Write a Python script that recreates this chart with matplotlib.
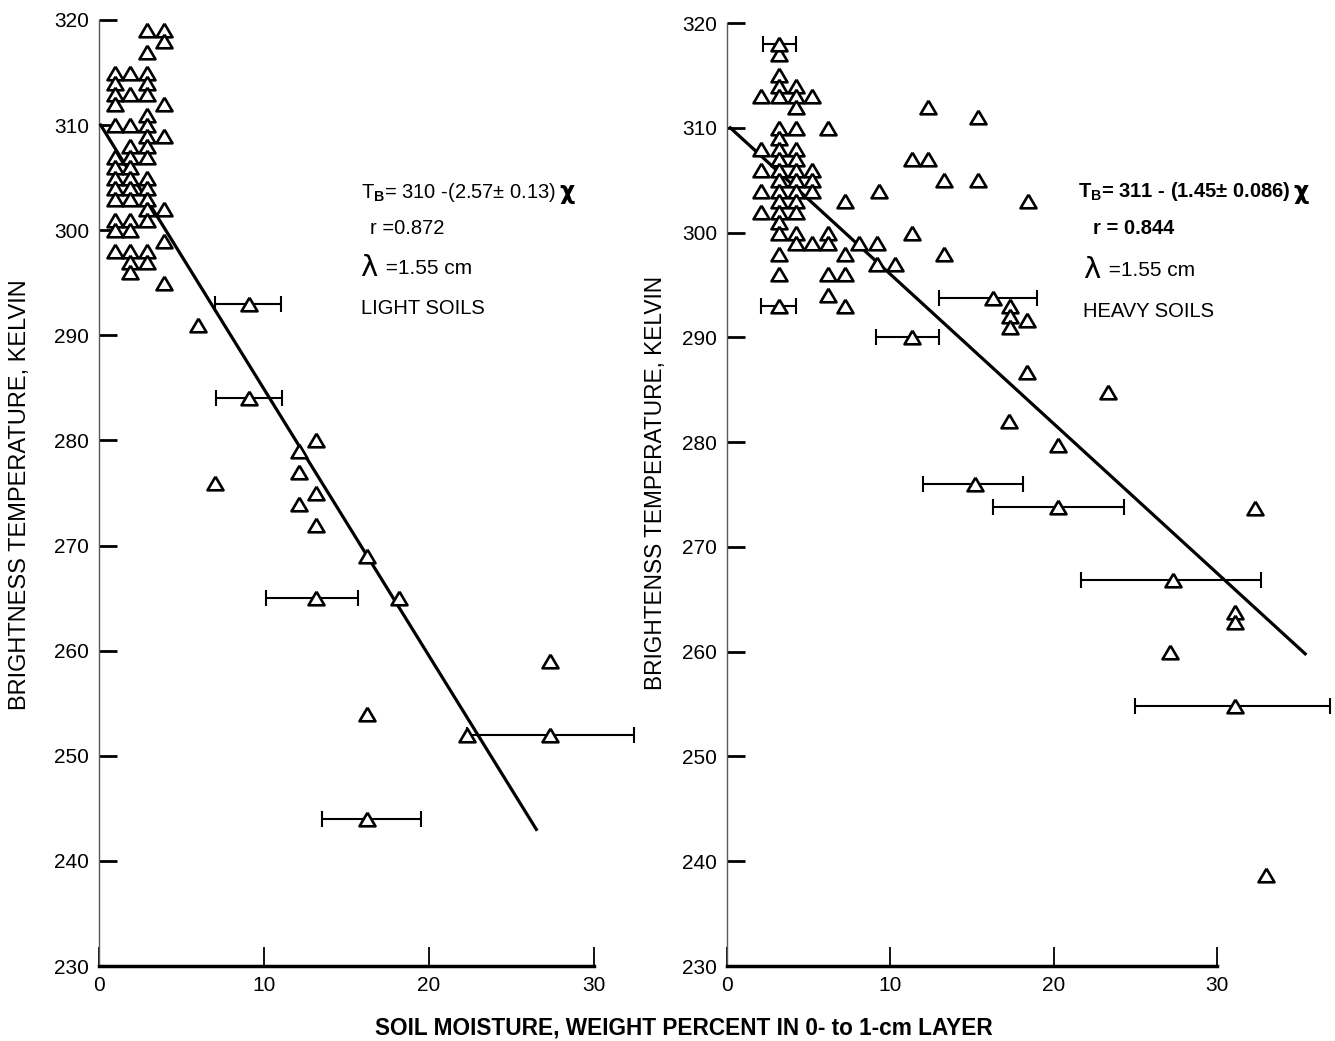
import matplotlib
matplotlib.use('Agg')
import matplotlib.pyplot as plt

plt.rcParams['font.family'] = ['Liberation Sans', 'DejaVu Sans']
plt.rcParams['mathtext.fontset'] = 'custom'
plt.rcParams['mathtext.rm'] = 'Liberation Sans'
plt.rcParams['mathtext.bf'] = 'Liberation Sans:bold'

# light soils (left panel)
light_x = [0.95] * 13 + [1.9] * 14 + [2.9] * 17 + [3.95] * 7 + [
    6.0, 7.0, 12.1, 13.15, 12.1, 12.1, 13.15, 13.15, 16.25, 18.2, 27.3, 16.25, 22.3]
light_t = [315, 314, 313, 312, 310, 307, 306, 305, 304, 303, 301, 300, 298,
           315, 313, 310, 308, 307, 306, 305, 304, 303, 301, 300, 298, 297, 296,
           319, 317, 315, 314, 313, 311, 310, 309, 308, 307, 305, 304, 303, 302, 301, 298, 297,
           319, 318, 312, 309, 302, 299, 295,
           291, 276, 279, 280, 277, 274, 275, 272, 269, 265, 259, 254, 252]
light_err_x = [9.1, 9.1, 13.15, 27.3, 16.25]
light_err_t = [293, 284, 265, 252, 244]
light_err_lo = [7.0, 7.1, 10.1, 22.3, 13.5]
light_err_hi = [11.0, 11.1, 15.7, 32.4, 19.5]
light_fit_x = [0.1, 26.5]
light_fit_t = [310, 243]

# heavy soils (right panel)
heavy_x = [2.1] * 5 + [3.2] * 17 + [4.2] * 13 + [5.2] * 5 + [6.2] * 5 + [7.2] * 4 + [
    8.1, 9.2, 9.3, 9.2, 10.3, 11.3, 12.3, 12.3, 11.3, 13.3, 13.3, 15.35, 15.35, 18.4,
    17.3, 17.3, 18.35, 17.3, 18.35, 17.25, 23.3, 20.25, 32.35, 31.1, 31.1, 27.15, 33.0]
heavy_t = [313, 308, 306, 304, 302,
           317, 315, 314, 313, 310, 309, 308, 307, 306, 305, 304, 303, 302, 301, 300, 298, 296,
           314, 313, 312, 310, 308, 307, 306, 305, 304, 303, 302, 300, 299,
           313, 306, 305, 304, 299,
           310, 300, 299, 296, 294,
           303, 298, 296, 293,
           299, 299, 304, 297, 297, 307, 307, 312, 300, 305, 298, 311, 305, 303,
           293, 292, 291.7, 291, 286.7, 282, 284.8, 279.7, 273.7, 263.8, 262.8, 260, 238.7]
heavy_err_x = [3.2, 3.2, 16.3, 11.3, 15.2, 20.25, 27.3, 31.1]
heavy_err_t = [318, 293, 293.8, 290, 276, 273.8, 266.8, 254.8]
heavy_err_lo = [2.2, 2.1, 13.0, 9.1, 12.0, 16.3, 21.65, 25.0]
heavy_err_hi = [4.2, 4.2, 19.0, 13.0, 18.1, 24.3, 32.7, 36.9]
heavy_fit_x = [0.2, 35.4]
heavy_fit_t = [310, 259.8]

y_ticks = [230, 240, 250, 260, 270, 280, 290, 300, 310, 320]
x_ticks = [0, 10, 20, 30]

tri = [(0, 0.85), (-1, -0.85), (1, -0.85), (0, 0.85)]

fig = plt.figure(figsize=(13.35, 10.41), dpi=100)
ax1 = fig.add_axes([0.0742, 0.0720, 0.3708, 0.9088])
ax2 = fig.add_axes([0.5446, 0.0720, 0.3670, 0.9059])


def draw_panel(ax, x, t, ex, et, elo, ehi, fx, ft):
    xerr = [[c - lo for c, lo in zip(ex, elo)], [hi - c for c, hi in zip(ex, ehi)]]
    ax.errorbar(ex, et, xerr=xerr, fmt='none', ecolor='black', elinewidth=1.5,
                capsize=6, capthick=1.5, clip_on=False, zorder=2)
    ax.plot(fx, ft, color='black', lw=2.3, clip_on=False, zorder=3)
    ax.plot(x + ex, t + et, linestyle='none', marker=tri, markersize=11.5,
            markerfacecolor='white', markeredgecolor='black', markeredgewidth=1.9,
            clip_on=False, zorder=4)
    ax.set_xlim(0, 30)
    ax.set_ylim(230, 320)
    ax.set_xticks(x_ticks)
    ax.set_yticks(y_ticks)
    ax.spines['top'].set_visible(False)
    ax.spines['right'].set_visible(False)
    ax.spines['left'].set_linewidth(1.0)
    ax.spines['left'].set_color('0.35')
    ax.spines['bottom'].set_linewidth(2.5)
    ax.tick_params(axis='x', direction='in', length=14, width=1.3, pad=7, labelsize=15)
    ax.tick_params(axis='y', direction='in', length=13, width=2.0, pad=7, labelsize=15)
    ax.set_facecolor('none')


draw_panel(ax1, light_x, light_t, light_err_x, light_err_t, light_err_lo, light_err_hi,
           light_fit_x, light_fit_t)
draw_panel(ax2, heavy_x, heavy_t, heavy_err_x, heavy_err_t, heavy_err_lo, heavy_err_hi,
           heavy_fit_x, heavy_fit_t)

t1 = ax1.text(15.9, 303.6, r'T$_{\mathbf{B}}$= 310 -(2.57± 0.13)', fontsize=14.5, va='center')
ax1.annotate('χ', xy=(1, 0.5), xycoords=t1, xytext=(2, 0), textcoords='offset points',
             fontsize=17, fontweight='bold', va='center', family='DejaVu Sans')
ax1.text(16.4, 300.2, 'r =0.872', fontsize=14.5, va='center')
ax1.text(15.8, 296.4, 'λ', fontsize=21, va='center', family='DejaVu Sans')
ax1.text(17.0, 296.4, ' =1.55 cm', fontsize=15, va='center')
ax1.text(15.9, 292.6, 'LIGHT SOILS', fontsize=14.5, va='center')

t2 = ax2.text(21.5, 303.9, r'T$_{\mathbf{B}}$= 311 - (1.45± 0.086)', fontsize=14.5,
              fontweight='bold', va='center')
ax2.annotate('χ', xy=(1, 0.5), xycoords=t2, xytext=(2, 0), textcoords='offset points',
             fontsize=17, fontweight='bold', va='center', family='DejaVu Sans')
ax2.text(22.4, 300.4, 'r = 0.844', fontsize=14.5, fontweight='bold', va='center')
ax2.text(21.8, 296.4, 'λ', fontsize=21, va='center', family='DejaVu Sans')
ax2.text(23.0, 296.4, ' =1.55 cm', fontsize=15, va='center')
ax2.text(21.8, 292.5, 'HEAVY SOILS', fontsize=14.5, va='center')

fig.text(0.015, 0.525, 'BRIGHTNESS TEMPERATURE, KELVIN', rotation=90,
         fontsize=17, ha='center', va='center')
fig.text(0.491, 0.536, 'BRIGHTENSS TEMPERATURE, KELVIN', rotation=90,
         fontsize=16.3, ha='center', va='center')
fig.text(0.512, 0.0125, 'SOIL MOISTURE, WEIGHT PERCENT IN 0- to 1-cm LAYER',
         fontsize=16.3, fontweight='bold', ha='center', va='center')

plt.savefig('out.png', dpi=100)
